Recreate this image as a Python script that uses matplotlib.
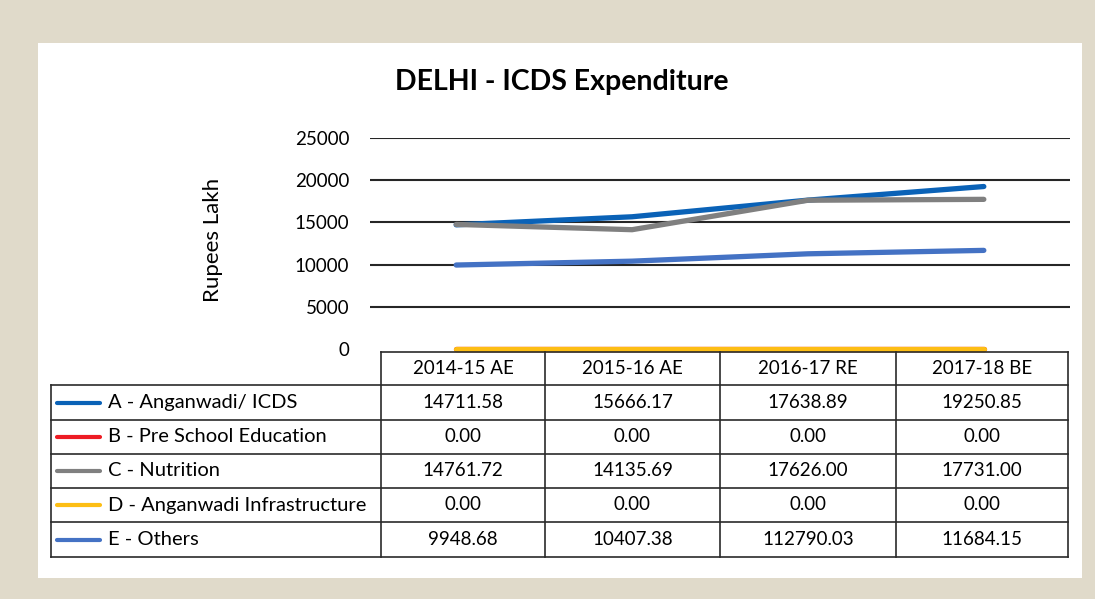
import matplotlib
matplotlib.use("Agg")
import matplotlib.pyplot as plt
from matplotlib.lines import Line2D
from matplotlib.patches import Rectangle

W, H = 1095, 599

categories = ["2014-15 AE", "2015-16 AE", "2016-17 RE", "2017-18 BE"]
series_names = ["A - Anganwadi/ ICDS", "B - Pre School Education", "C - Nutrition",
                "D - Anganwadi Infrastructure", "E - Others"]
anganwadi = [14711.58, 15666.17, 17638.89, 19250.85]
preschool = [0.00, 0.00, 0.00, 0.00]
nutrition = [14761.72, 14135.69, 17626.00, 17731.00]
infrastructure = [0.00, 0.00, 0.00, 0.00]
others = [9948.68, 10407.38, 11279.03, 11684.15]
# the table in the source prints the 2016-17 "Others" value as 112790.03
others_table_text = ["9948.68", "10407.38", "112790.03", "11684.15"]
yticks = [0, 5000, 10000, 15000, 20000, 25000]

series = [anganwadi, preschool, nutrition, infrastructure, others]
colors = ["#0A62B7", "#ED1C24", "#808080", "#FDBE14", "#4472C4"]

plt.rcParams['font.family'] = ['Lato', 'DejaVu Sans']

fig = plt.figure(figsize=(W / 100, H / 100), dpi=100)
fig.patch.set_facecolor('#E0DACA')


def fx(x):
    return x / W


def fy(y):
    return 1 - y / H


fig.add_artist(Rectangle((fx(38), fy(578)), (1082 - 38) / W, (578 - 43) / H,
                         transform=fig.transFigure, facecolor='white',
                         edgecolor='none', zorder=0))

ax = fig.add_axes([fx(370), fy(349), 700 / W, 211 / H])
ax.set_facecolor('none')
ax.set_xlim(-0.49, 3.49)
ax.set_ylim(0, 25000)
for s in ax.spines.values():
    s.set_visible(False)
ax.set_xticks([])
ax.set_yticks(yticks)
ax.set_yticklabels([str(v) for v in yticks], fontsize=13.5)
ax.tick_params(axis='y', length=0, pad=15)
for v in yticks[1:]:
    ax.axhline(v, color='#262626', lw=1.5, zorder=1)

xs = list(range(len(categories)))
for vals, c in zip(series, colors):
    ax.plot(xs, vals, color=c, lw=3.8, solid_capstyle='round',
            solid_joinstyle='round', clip_on=False, zorder=3)

fig.text(fx(562), fy(90), "DELHI - ICDS Expenditure", ha='center', va='baseline',
         fontsize=20.5, fontweight='bold')
fig.text(fx(213), fy(240), "Rupees Lakh", rotation=90, ha='center', va='center',
         fontsize=16)

# table
col_x = [51, 381, 545, 720, 896, 1068]
row_y = [352, 385, 420, 454, 488, 522, 557]
ec = '#2a2a2a'
lw = 1.2


def hline(x0, x1, y):
    fig.add_artist(Line2D([fx(x0), fx(x1)], [fy(y), fy(y)], transform=fig.transFigure,
                          color=ec, lw=lw, zorder=2))


def vline(x, y0, y1):
    fig.add_artist(Line2D([fx(x), fx(x)], [fy(y0), fy(y1)], transform=fig.transFigure,
                          color=ec, lw=lw, zorder=2))


hline(col_x[1], col_x[-1], row_y[0])
for y in row_y[1:]:
    hline(col_x[0], col_x[-1], y)
for x in col_x[1:]:
    vline(x, row_y[0], row_y[-1])
vline(col_x[0], row_y[1], row_y[-1])

for j, cat in enumerate(categories):
    cx = (col_x[j + 1] + col_x[j + 2]) / 2
    cy = (row_y[0] + row_y[1]) / 2
    fig.text(fx(cx), fy(cy), cat, ha='center', va='center', fontsize=13.5)

for i, (name, vals, c) in enumerate(zip(series_names, series, colors)):
    cy = (row_y[i + 1] + row_y[i + 2]) / 2
    fig.add_artist(Line2D([fx(57), fx(100)], [fy(cy), fy(cy)], transform=fig.transFigure,
                          color=c, lw=3.0, solid_capstyle='round', zorder=3))
    fig.text(fx(108), fy(cy), name, ha='left', va='center', fontsize=14.5)
    texts = others_table_text if vals is others else [f"{v:.2f}" for v in vals]
    for j, t in enumerate(texts):
        cx = (col_x[j + 1] + col_x[j + 2]) / 2
        fig.text(fx(cx), fy(cy), t, ha='center', va='center', fontsize=13.5)

fig.savefig("out.png", dpi=100, facecolor=fig.get_facecolor())
